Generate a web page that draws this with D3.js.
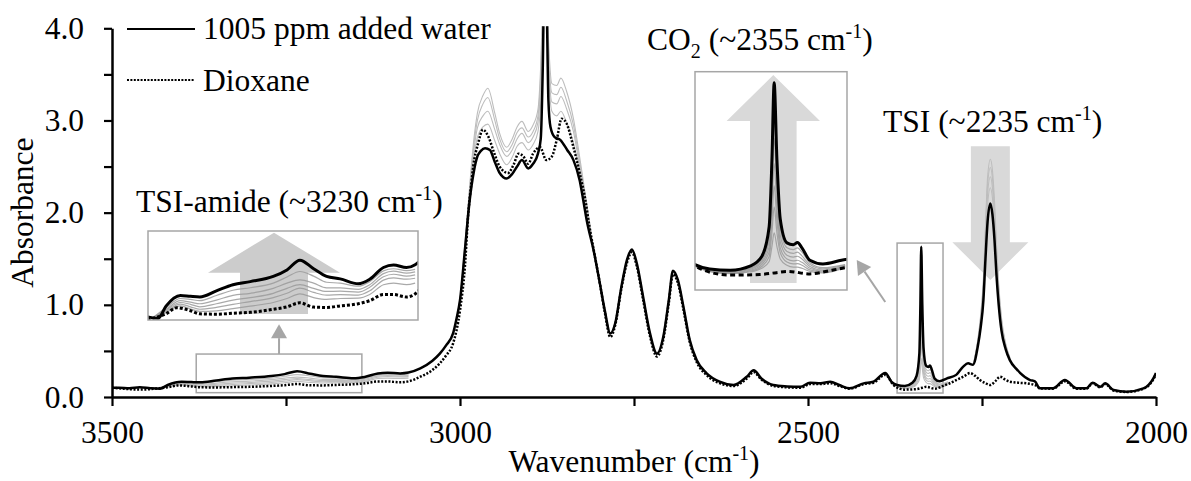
<!DOCTYPE html>
<html>
<head>
<meta charset="utf-8">
<script src="https://cdn.jsdelivr.net/npm/d3@7"></script>
<style>
  body { margin: 0; background: #fff; }
</style>
</head>
<body>
<svg id="chart" width="1191" height="481"></svg>
<script>
// ---- data: [wavenumber, absorbance] ----
const waterSpectrum = [[3500,0.10],[3490,0.10],[3475,0.095],[3460,0.105],[3445,0.095],[3431,0.09],[3420,0.13],[3400,0.165],[3386,0.162],[3373,0.16],[3350,0.18],[3327,0.2],[3303,0.21],[3271,0.227],[3252,0.248],[3234,0.28],[3215,0.252],[3197,0.227],[3178,0.219],[3153,0.203],[3137,0.218],[3118,0.256],[3104,0.264],[3086,0.256],[3074,0.265],[3057,0.31],[3040,0.39],[3029,0.47],[3020,0.56],[3010,0.69],[3005,0.85],[3000,1.05],[2993,1.59],[2986,2.14],[2980,2.45],[2975,2.61],[2970,2.67],[2964,2.70],[2957,2.68],[2950,2.55],[2943,2.43],[2933,2.37],[2925,2.42],[2918,2.50],[2911,2.57],[2902,2.48],[2895,2.53],[2888,2.64],[2884,2.8],[2881,3.6],[2879,4.5],[2876,4.4],[2873,3.22],[2870,2.93],[2864,2.82],[2856,2.79],[2846,2.68],[2837,2.57],[2828,2.35],[2823,2.14],[2818,1.92],[2808,1.59],[2799,1.23],[2792,0.94],[2784,0.69],[2777,0.80],[2768,1.20],[2760,1.49],[2753,1.60],[2746,1.45],[2737,1.09],[2727,0.69],[2717,0.47],[2708,0.65],[2700,1.05],[2694,1.37],[2687,1.27],[2679,0.98],[2670,0.62],[2660,0.40],[2646,0.26],[2627,0.166],[2607,0.13],[2588,0.22],[2578,0.29],[2567,0.20],[2550,0.13],[2530,0.115],[2511,0.11],[2497,0.155],[2482,0.15],[2468,0.166],[2455,0.13],[2440,0.094],[2420,0.148],[2406,0.166],[2389,0.26],[2380,0.165],[2372,0.13],[2361,0.12],[2350,0.155],[2344,0.23],[2340,0.47],[2338.5,1.01],[2337.3,1.63],[2335.8,1.01],[2334,0.53],[2330.4,0.34],[2327,0.325],[2324.7,0.343],[2322.3,0.30],[2318,0.20],[2311,0.17],[2301,0.20],[2287,0.24],[2277,0.33],[2270,0.365],[2263,0.35],[2256,0.55],[2252,0.75],[2248,1.05],[2245,1.5],[2242,1.9],[2238,2.10],[2235,1.98],[2232,1.7],[2229,1.3],[2226,1.0],[2222,0.72],[2216,0.52],[2210,0.40],[2200,0.30],[2195,0.26],[2181,0.184],[2174,0.17],[2167,0.094],[2148,0.094],[2131,0.184],[2114,0.094],[2100,0.094],[2091,0.155],[2080,0.11],[2073,0.148],[2061,0.076],[2042,0.058],[2018,0.094],[2004,0.20],[2000,0.26]];

const dioxaneSpectrum = [[3500,0.10],[3490,0.095],[3475,0.085],[3460,0.08],[3445,0.085],[3438,0.09],[3420,0.105],[3405,0.125],[3386,0.115],[3373,0.105],[3350,0.104],[3327,0.107],[3303,0.11],[3271,0.12],[3252,0.128],[3234,0.141],[3215,0.127],[3197,0.126],[3178,0.131],[3153,0.138],[3137,0.148],[3118,0.168],[3104,0.168],[3086,0.16],[3074,0.17],[3057,0.22],[3040,0.29],[3029,0.365],[3020,0.45],[3010,0.58],[3000,0.94],[2993,1.41],[2988,2.0],[2984,2.3],[2981,2.50],[2974,2.75],[2967,2.90],[2959,2.82],[2951,2.65],[2943,2.50],[2931,2.43],[2923,2.52],[2916,2.64],[2909,2.61],[2902,2.53],[2895,2.64],[2885,2.71],[2876,2.57],[2868,2.61],[2861,2.79],[2854,3.02],[2847,2.97],[2837,2.71],[2828,2.43],[2820,2.14],[2814,1.85],[2808,1.6],[2799,1.23],[2792,0.92],[2784,0.65],[2777,0.78],[2768,1.18],[2760,1.46],[2753,1.57],[2746,1.42],[2737,1.06],[2727,0.66],[2717,0.44],[2708,0.62],[2700,1.02],[2694,1.33],[2687,1.24],[2679,0.95],[2670,0.6],[2660,0.38],[2646,0.24],[2627,0.15],[2607,0.12],[2588,0.2],[2578,0.27],[2567,0.19],[2550,0.12],[2530,0.105],[2511,0.10],[2497,0.14],[2482,0.14],[2468,0.15],[2455,0.12],[2440,0.09],[2420,0.14],[2406,0.155],[2389,0.24],[2377,0.13],[2361,0.08],[2345,0.085],[2336,0.1],[2330,0.11],[2318,0.09],[2306,0.12],[2299,0.14],[2287,0.184],[2277,0.22],[2267,0.26],[2260,0.23],[2253,0.184],[2245,0.15],[2238,0.13],[2231,0.17],[2224,0.22],[2217,0.19],[2210,0.166],[2198,0.155],[2186,0.148],[2171,0.12],[2167,0.094],[2148,0.09],[2131,0.17],[2114,0.09],[2100,0.09],[2091,0.15],[2080,0.105],[2073,0.14],[2061,0.07],[2042,0.055],[2018,0.09],[2004,0.19],[2000,0.25]];

// intermediate water additions (grey), only where they differ from the final trace
const chWavenumbers = [3005,3000,2993,2986,2980,2975,2967,2960,2950,2943,2933,2925,2918,2911,2902,2895,2888,2884,2881,2879,2876,2873,2868,2861,2855,2847,2837,2828,2820,2812];
const chGray1 = [0.85,1.06,1.65,2.3,2.8,3.08,3.27,3.35,3.08,2.86,2.71,2.8,2.93,2.99,2.88,2.95,3.12,3.6,4.3,4.6,4.5,3.9,3.4,3.38,3.46,3.32,3.02,2.6,2.2,1.8];
const chGray2 = [0.85,1.06,1.63,2.27,2.74,3.0,3.18,3.25,3.0,2.8,2.66,2.74,2.87,2.92,2.82,2.88,3.05,3.5,4.2,4.6,4.5,3.8,3.3,3.28,3.36,3.22,2.95,2.55,2.18,1.79];
const chGray3 = [0.85,1.06,1.62,2.24,2.68,2.92,3.05,3.1,2.9,2.74,2.61,2.68,2.8,2.86,2.76,2.82,2.98,3.4,4.1,4.5,4.4,3.7,3.2,3.18,3.26,3.13,2.88,2.5,2.16,1.78];
const chGray4 = [0.85,1.05,1.6,2.2,2.6,2.82,2.93,2.96,2.78,2.64,2.52,2.6,2.72,2.76,2.68,2.74,2.88,3.2,4.0,4.5,4.4,3.6,3.1,3.05,3.1,2.98,2.76,2.43,2.14,1.76];

const tsiWavenumbers = [2262,2256,2252,2248,2245,2242,2238,2235,2232,2229,2226,2222,2216,2210];
const tsiGray1 = [0.37,0.62,0.88,1.28,1.85,2.38,2.58,2.46,2.12,1.62,1.22,0.86,0.58,0.43];
const tsiGray2 = [0.37,0.61,0.86,1.24,1.8,2.3,2.49,2.37,2.04,1.56,1.18,0.83,0.57,0.42];
const tsiGray3 = [0.36,0.6,0.83,1.2,1.72,2.2,2.39,2.27,1.96,1.5,1.14,0.8,0.56,0.42];
const tsiGray4 = [0.36,0.58,0.8,1.15,1.64,2.08,2.27,2.16,1.87,1.43,1.09,0.77,0.55,0.41];

const amideWavenumbers = [3438,3420,3400,3386,3373,3350,3327,3303,3271,3252,3234,3215,3197,3178,3153,3137,3118,3104,3086,3074];
const amideGray1 = [0.093,0.125,0.155,0.152,0.148,0.165,0.182,0.19,0.205,0.225,0.243,0.228,0.208,0.205,0.195,0.21,0.245,0.252,0.246,0.25];
const amideGray2 = [0.092,0.12,0.148,0.143,0.138,0.15,0.165,0.172,0.188,0.205,0.216,0.205,0.19,0.19,0.185,0.2,0.236,0.244,0.238,0.242];
const amideGray3 = [0.092,0.117,0.142,0.136,0.128,0.138,0.15,0.158,0.172,0.188,0.2,0.188,0.178,0.179,0.176,0.192,0.226,0.234,0.228,0.232];
const amideGray4 = [0.091,0.113,0.137,0.128,0.12,0.126,0.136,0.145,0.158,0.172,0.189,0.175,0.166,0.168,0.166,0.18,0.215,0.222,0.218,0.221];
const amideGray5 = [0.09,0.109,0.131,0.121,0.113,0.115,0.122,0.13,0.142,0.155,0.170,0.158,0.152,0.155,0.156,0.168,0.2,0.205,0.2,0.205];

const co2Wavenumbers = [2380,2372,2361,2350,2344,2340,2338.5,2337.3,2335.8,2334,2330.4,2327,2324.7,2322.3,2318,2311,2299];
const co2Gray1 = [0.16,0.12,0.11,0.142,0.21,0.41,0.86,1.38,0.86,0.46,0.3,0.285,0.3,0.265,0.18,0.14,0.165];
const co2Gray2 = [0.16,0.118,0.106,0.135,0.195,0.36,0.74,1.18,0.74,0.4,0.27,0.255,0.265,0.235,0.165,0.13,0.16];
const co2Gray3 = [0.155,0.115,0.102,0.128,0.18,0.31,0.62,0.98,0.62,0.35,0.24,0.225,0.232,0.21,0.15,0.12,0.155];
const co2Gray4 = [0.155,0.112,0.098,0.12,0.165,0.27,0.52,0.80,0.52,0.3,0.21,0.195,0.2,0.183,0.135,0.112,0.15];
const co2Gray5 = [0.15,0.11,0.095,0.113,0.15,0.23,0.42,0.63,0.42,0.26,0.185,0.17,0.172,0.16,0.122,0.105,0.145];
const co2Gray6 = [0.15,0.108,0.092,0.106,0.135,0.19,0.31,0.42,0.31,0.21,0.16,0.145,0.145,0.135,0.11,0.098,0.14];

const xTicks = [3500, 3250, 3000, 2750, 2500, 2250, 2000];
const xLabels = [3500, 3000, 2500, 2000];
const yTicks = [0, 0.5, 1, 1.5, 2, 2.5, 3, 3.5, 4];
const yLabels = [0, 1, 2, 3, 4];

// ---- layout ----
const FONT = '"Liberation Serif", "Times New Roman", serif';
const fontSize = 31.5;
const smallSize = 20;
const boxGray = "#a6a6a6";
const plot = { left: 112, right: 1156, top: 28.3, bottom: 397 };

const svg = d3.select("#chart").style("font-family", FONT);

const x = d3.scaleLinear().domain([3500, 2000]).range([plot.left, plot.right]);
const y = d3.scaleLinear().domain([0, 4]).range([plot.bottom, plot.top]);

const grayGroups = {
  ch: { wn: chWavenumbers, series: [chGray1, chGray2, chGray3, chGray4] },
  tsi: { wn: tsiWavenumbers, series: [tsiGray1, tsiGray2, tsiGray3, tsiGray4] },
  amide: { wn: amideWavenumbers, series: [amideGray1, amideGray2, amideGray3, amideGray4, amideGray5] },
  co2: { wn: co2Wavenumbers, series: [co2Gray1, co2Gray2, co2Gray3, co2Gray4, co2Gray5, co2Gray6] }
};

const makeLine = (xs, ys) => d3.line()
  .x(d => xs(d[0]))
  .y(d => ys(d[1]))
  .curve(d3.curveMonotoneX);

const defs = svg.append("defs");
defs.append("clipPath").attr("id", "plotClip")
  .append("rect")
  .attr("x", plot.left).attr("y", plot.top - 2)
  .attr("width", plot.right - plot.left).attr("height", plot.bottom - plot.top + 2);

function blockArrow(cx, tipY, headBaseY, tailY, headHalf, shaftHalf) {
  return [
    [cx, tipY], [cx + headHalf, headBaseY], [cx + shaftHalf, headBaseY],
    [cx + shaftHalf, tailY], [cx - shaftHalf, tailY], [cx - shaftHalf, headBaseY],
    [cx - headHalf, headBaseY]
  ].map(p => p.join(",")).join(" ");
}

function connector(g, x1, y1, x2, y2) {
  const ang = Math.atan2(y2 - y1, x2 - x1);
  const headLen = 14, headHalf = 8;
  const bx = x2 - headLen * Math.cos(ang), by = y2 - headLen * Math.sin(ang);
  g.append("line")
    .attr("x1", x1).attr("y1", y1).attr("x2", bx).attr("y2", by)
    .attr("stroke", boxGray).attr("stroke-width", 2);
  const px = -Math.sin(ang) * headHalf, py = Math.cos(ang) * headHalf;
  g.append("polygon")
    .attr("points", [[x2, y2], [bx + px, by + py], [bx - px, by - py]].map(p => p.join(",")).join(" "))
    .attr("fill", boxGray);
}

function addText(g, px, py, str) {
  return g.append("text").attr("x", px).attr("y", py)
    .style("font-family", FONT).style("font-size", fontSize + "px").attr("fill", "#000")
    .text(str);
}

function richText(g, px, py, parts) {
  const t = g.append("text").attr("x", px).attr("y", py)
    .style("font-family", FONT).style("font-size", fontSize + "px").attr("fill", "#000");
  let shift = 0;
  parts.forEach(p => {
    const target = p.sup ? -12 : p.sub ? 8 : 0;
    t.append("tspan")
      .attr("dy", target - shift)
      .style("font-family", FONT)
      .style("font-size", (p.sup || p.sub ? smallSize : fontSize) + "px")
      .text(p.t);
    shift = target;
  });
  return t;
}

// ---- main plot annotations behind the spectra ----
const back = svg.append("g");

// TSI decrease arrow
back.append("polygon")
  .attr("points", blockArrow(x(2238), y(1.27), y(1.68), y(2.72), 38, 19.5))
  .attr("fill", "#d9d9d9");

// small zoom boxes
const amideBox = { wn: [3379, 3141], a: [0.047, 0.466] };
const co2Box = { wn: [2372, 2306], a: [0.043, 1.67] };
[amideBox, co2Box].forEach(b => {
  back.append("rect")
    .attr("x", x(b.wn[0])).attr("y", y(b.a[1]))
    .attr("width", x(b.wn[1]) - x(b.wn[0])).attr("height", y(b.a[0]) - y(b.a[1]))
    .attr("fill", "none").attr("stroke", boxGray).attr("stroke-width", 1.5);
});

// ---- spectra ----
const lines = svg.append("g").attr("clip-path", "url(#plotClip)");
const mainLine = makeLine(x, y);

Object.values(grayGroups).forEach(grp => {
  grp.series.forEach(vals => {
    lines.append("path")
      .datum(d3.zip(grp.wn, vals))
      .attr("d", mainLine)
      .attr("fill", "none").attr("stroke", "#bdbdbd").attr("stroke-width", 1.1);
  });
});

lines.append("path")
  .datum(dioxaneSpectrum)
  .attr("d", mainLine)
  .attr("fill", "none").attr("stroke", "#000").attr("stroke-width", 2.5)
  .attr("stroke-dasharray", "2,1.6");

lines.append("path")
  .datum(waterSpectrum)
  .attr("d", mainLine)
  .attr("fill", "none").attr("stroke", "#000").attr("stroke-width", 2.5);

// ---- axes ----
const yAxis = d3.axisLeft(y)
  .tickValues(yTicks)
  .tickSize(8).tickSizeOuter(0).tickPadding(20)
  .tickFormat(d => yLabels.includes(d) ? d3.format(".1f")(d) : "");
const yG = svg.append("g").attr("transform", `translate(${plot.left},0)`).call(yAxis);

const xAxis = d3.axisBottom(x)
  .tickValues(xTicks)
  .tickSize(9).tickSizeOuter(0).tickPadding(15)
  .tickFormat(d => xLabels.includes(d) ? d : "");
const xG = svg.append("g").attr("transform", `translate(0,${plot.bottom})`).call(xAxis);

[yG, xG].forEach(g => {
  g.attr("font-family", null).attr("font-size", null);
  g.select(".domain").attr("stroke", "#000").attr("stroke-width", 2.5);
  g.selectAll(".tick line").attr("stroke", "#000").attr("stroke-width", 2.2);
  g.selectAll(".tick text")
    .style("font-family", FONT)
    .style("font-size", fontSize + "px").attr("fill", "#000");
});

addText(svg, 0, 0, "Absorbance")
  .attr("x", null).attr("y", null)
  .attr("transform", `translate(33,${(plot.top + plot.bottom) / 2}) rotate(-90)`)
  .attr("text-anchor", "middle");

richText(svg, (plot.left + plot.right) / 2, 472, [{ t: "Wavenumber (cm" }, { t: "-1", sup: true }, { t: ")" }])
  .attr("text-anchor", "middle");

// ---- legend ----
const legend = svg.append("g");
legend.append("line").attr("x1", 127).attr("x2", 195).attr("y1", 29).attr("y2", 29)
  .attr("stroke", "#000").attr("stroke-width", 2.2);
addText(legend, 203, 39, "1005 ppm added water");
legend.append("line").attr("x1", 127).attr("x2", 195).attr("y1", 80).attr("y2", 80)
  .attr("stroke", "#000").attr("stroke-width", 2.2).attr("stroke-dasharray", "2,1.4");
addText(legend, 203, 91, "Dioxane");

// ---- region labels ----
richText(svg, 136, 212, [{ t: "TSI-amide (~3230 cm" }, { t: "-1", sup: true }, { t: ")" }]);
richText(svg, 647, 50, [{ t: "CO" }, { t: "2", sub: true }, { t: " (~2355 cm" }, { t: "-1", sup: true }, { t: ")" }]);
richText(svg, 883, 132, [{ t: "TSI (~2235 cm" }, { t: "-1", sup: true }, { t: ")" }]);

// connectors from small boxes to insets
connector(svg, x(3260), y(amideBox.a[1]), x(3260), y(0.79));
connector(svg, x(2389), y(1.03), x(2430), y(1.486));

// ---- insets ----
function drawInset(id, box, xDom, yDom, grp, arrow, dash) {
  const ix = d3.scaleLinear().domain(xDom).range([box.x, box.x + box.w]);
  const iy = d3.scaleLinear().domain(yDom).range([box.y + box.h, box.y]);
  const g = svg.append("g");
  defs.append("clipPath").attr("id", id).append("rect")
    .attr("x", box.x).attr("y", box.y).attr("width", box.w).attr("height", box.h);
  g.append("rect").attr("x", box.x).attr("y", box.y).attr("width", box.w).attr("height", box.h)
    .attr("fill", "#fff");
  g.append("polygon")
    .attr("points", blockArrow(box.x + arrow.cx, box.y + arrow.tip, box.y + arrow.base, box.y + arrow.tail, arrow.head, arrow.shaft))
    .attr("fill", arrow.color);
  const inner = g.append("g").attr("clip-path", `url(#${id})`);
  const l = makeLine(ix, iy);
  grp.series.forEach(vals => {
    inner.append("path").datum(d3.zip(grp.wn, vals)).attr("d", l)
      .attr("fill", "none").attr("stroke", "#9a9a9a").attr("stroke-width", 1.2).attr("opacity", 0.85);
  });
  inner.append("path").datum(dioxaneSpectrum).attr("d", l)
    .attr("fill", "none").attr("stroke", "#000").attr("stroke-width", 3).attr("stroke-dasharray", dash);
  inner.append("path").datum(waterSpectrum).attr("d", l)
    .attr("fill", "none").attr("stroke", "#000").attr("stroke-width", 3);
  g.append("rect").attr("x", box.x).attr("y", box.y).attr("width", box.w).attr("height", box.h)
    .attr("fill", "none").attr("stroke", boxGray).attr("stroke-width", 1.5);
}

drawInset("amideClip", { x: 148, y: 231, w: 270, h: 89 }, [3445, 3070], [0.085, 0.375], grayGroups.amide,
  { cx: 126, tip: 1.7, base: 41.7, tail: 83, head: 66, shaft: 34, color: "#cccccc" }, "3,2");
drawInset("co2Clip", { x: 695, y: 71.7, w: 152, h: 218.3 }, [2380, 2298], [-0.04, 1.72], grayGroups.co2,
  { cx: 78.3, tip: 3.3, base: 49.3, tail: 211.3, head: 46.7, shaft: 23.3, color: "#d9d9d9" }, "5,3.5");
</script>
</body>
</html>
